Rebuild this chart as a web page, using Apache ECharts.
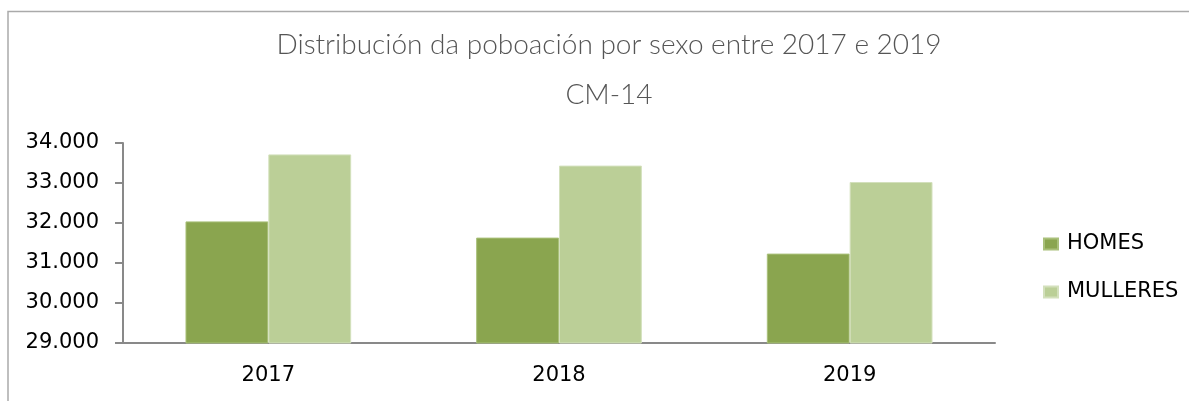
<!DOCTYPE html>
<html lang="gl">
    <head>
        <meta charset="UTF-8" />
        <title>Distribución da poboación por sexo</title>
        <script src="https://cdn.jsdelivr.net/npm/echarts@6/dist/echarts.min.js"></script>
        <style>
            body {
                margin: 0;
                padding: 0;
                background: #fff;
            }
            #chart {
                width: 1189px;
                height: 401px;
            }
        </style>
    </head>
    <body>
        <div id="chart"></div>
        <script>
            let years = ['2017', '2018', '2019'];
            let homes = [32040, 31635, 31235];
            let mulleres = [33715, 33435, 33025];
            let yTicks = [29000, 30000, 31000, 32000, 33000, 34000];

            function fmt(v) {
                return String(v).replace(/\B(?=(\d{3})+(?!\d))/g, '.');
            }

            let axisColor = '#898989';
            let labelFont = { fontFamily: 'DejaVu Sans', fontSize: 21, color: '#000' };

            let myChart = echarts.init(document.getElementById('chart'));
            let option = {
                animation: false,
                backgroundColor: '#fff',
                graphic: [
                    {
                        type: 'rect',
                        shape: { x: 8, y: 11.5, width: 1400, height: 600 },
                        style: { fill: 'none', stroke: '#aaaaaa', lineWidth: 1.5 }
                    }
                ],
                title: {
                    text: 'Distribución da poboación por sexo entre 2017 e 2019\nCM-14',
                    left: 604,
                    textAlign: 'center',
                    top: 15,
                    textStyle: {
                        fontFamily: 'Lato',
                        fontWeight: 300,
                        fontSize: 28,
                        lineHeight: 50,
                        color: '#555555'
                    }
                },
                legend: {
                    orient: 'vertical',
                    left: 1038,
                    top: 227,
                    itemWidth: 14,
                    itemHeight: 11,
                    itemGap: 24,
                    icon: 'rect',
                    textStyle: {
                        fontFamily: 'DejaVu Sans',
                        fontSize: 21,
                        lineHeight: 24,
                        color: '#000',
                        padding: [0, 0, 0, 4]
                    },
                    data: ['HOMES', 'MULLERES']
                },
                grid: {
                    left: 123,
                    right: 194,
                    top: 143,
                    bottom: 58
                },
                xAxis: {
                    type: 'category',
                    data: years,
                    axisLine: { lineStyle: { color: axisColor, width: 2 } },
                    axisTick: { length: 8, lineStyle: { color: axisColor, width: 2 } },
                    axisLabel: Object.assign({ margin: 22 }, labelFont)
                },
                yAxis: {
                    type: 'value',
                    min: yTicks[0],
                    max: yTicks[yTicks.length - 1],
                    interval: 1000,
                    splitLine: { show: false },
                    axisLine: { show: true, lineStyle: { color: axisColor, width: 2 } },
                    axisTick: { show: true, length: 8, lineStyle: { color: axisColor, width: 2 } },
                    axisLabel: Object.assign({ margin: 24, formatter: fmt }, labelFont)
                },
                series: [
                    {
                        name: 'HOMES',
                        type: 'bar',
                        data: homes,
                        barGap: '0%',
                        barCategoryGap: '43%',
                        itemStyle: { color: '#8aa54f', borderColor: '#a9c07a', borderWidth: 1 }
                    },
                    {
                        name: 'MULLERES',
                        type: 'bar',
                        data: mulleres,
                        itemStyle: { color: '#bbcf97', borderColor: '#d3e0bc', borderWidth: 1 }
                    }
                ]
            };
            myChart.setOption(option);
        </script>
    </body>
</html>
